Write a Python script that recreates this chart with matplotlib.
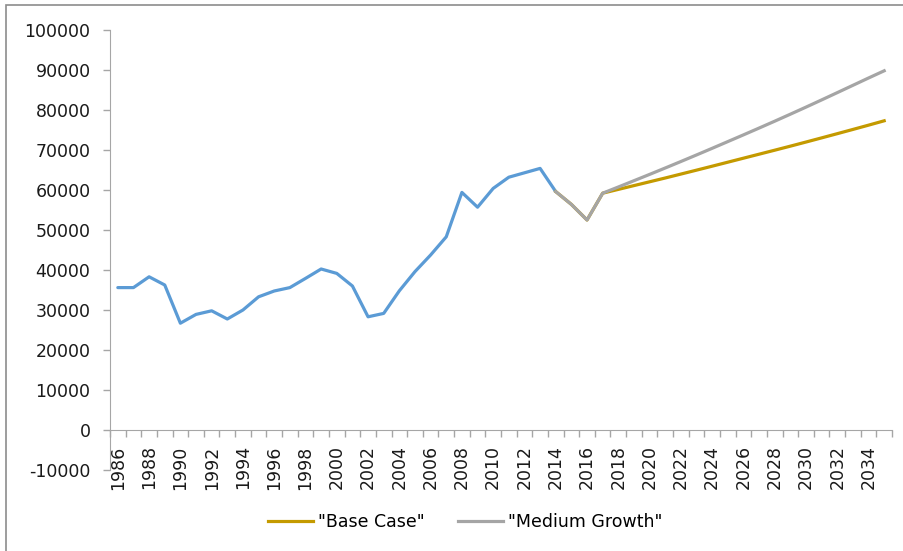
import matplotlib.pyplot as plt
from matplotlib.patches import Rectangle

# Годы по категориям (1986-2035)
years = list(range(1986, 2036))

# Фактические значения 1986-2014
actual = [35600, 35600, 38300, 36250, 26700, 28900, 29800, 27750, 30000, 33300,
          34750, 35600, 37900, 40250, 39150, 36000, 28300, 29150, 34800, 39600,
          43750, 48300, 59400, 55700, 60400, 63200, 64300, 65400, 59600]

# Прогнозы 2014-2035 (первые четыре точки - общая история)
base_case = [59600, 56400, 52500, 59200, 60150, 61100, 62050, 63000, 63980, 64960,
             65950, 66950, 67950, 68950, 69950, 70960, 71990, 73030, 74080, 75140,
             76210, 77300]
medium_growth = [59600, 56400, 52500, 59200, 60750, 62320, 63900, 65500, 67120, 68760,
                 70420, 72100, 73780, 75480, 77200, 78950, 80720, 82520, 84340, 86170,
                 88000, 89800]

x_actual = list(range(len(actual)))
x_fc = list(range(len(actual) - 1, len(years)))

axis_grey = '#a6a6a6'
plt.rcParams['font.family'] = ['DejaVu Sans']
plt.rcParams['axes.unicode_minus'] = False

fig = plt.figure(figsize=(9.04, 5.51), dpi=100)
ax = fig.add_axes([110 / 904, 1 - 470 / 551, 782 / 904, 440 / 551])

ax.plot(x_actual, actual, color='#5b9bd5', linewidth=2.3, solid_capstyle='round',
        solid_joinstyle='round', label='_nolegend_')
ax.plot(x_fc, base_case, color='#c49a00', linewidth=2.3, solid_joinstyle='round', label='"Base Case"')
ax.plot(x_fc, medium_growth, color='#a5a5a5', linewidth=2.3, solid_joinstyle='round', label='"Medium Growth"')

# Оси
ax.set_xlim(-0.5, len(years) - 0.5)
ax.set_ylim(-10000, 100000)
ax.set_yticks(range(-10000, 100001, 10000))
ax.tick_params(axis='y', direction='out', length=5, width=1, color=axis_grey, pad=9,
               labelsize=12.5, labelcolor='#1a1a1a')

ax.set_xticks(range(0, len(years), 2))
ax.set_xticklabels([str(y) for y in years[::2]])
ax.set_xticks([i - 0.5 for i in range(len(years) + 1)], minor=True)
ax.tick_params(axis='x', which='major', length=0, pad=11, labelsize=12.5,
               labelcolor='#1a1a1a', labelrotation=90)
ax.tick_params(axis='x', which='minor', direction='out', length=5, width=1, color=axis_grey)

for side in ['top', 'right']:
    ax.spines[side].set_visible(False)
ax.spines['left'].set_color(axis_grey)
ax.spines['bottom'].set_color(axis_grey)
ax.spines['bottom'].set_position(('data', 0))

# Легенда снизу
fig.legend(loc='center', bbox_to_anchor=(465 / 904, 1 - 522 / 551), ncol=2, frameon=False,
           fontsize=12.5, handlelength=2.6, handletextpad=0.3, columnspacing=1.9)

# Рамка диаграммы
fig.patches.append(Rectangle((6 / 904, -0.1), 1.2, 1.1 - 5 / 551, transform=fig.transFigure,
                             fill=False, edgecolor='#8c8c8c', linewidth=1.2))

fig.savefig('out.png', dpi=100)
